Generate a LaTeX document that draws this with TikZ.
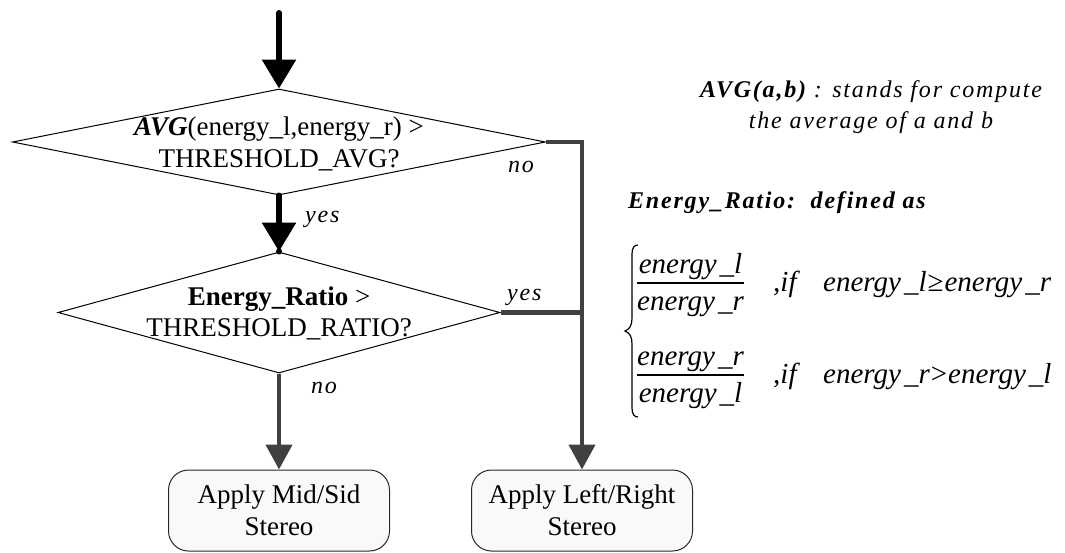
\documentclass[tikz,border=0pt]{standalone}
\usepackage{fontspec}
\setmainfont{Liberation Serif}[
  UprightFont={Liberation Serif},
  BoldFont={Liberation Serif Bold},
  ItalicFont={Liberation Serif Italic},
  BoldItalicFont={Liberation Serif Bold Italic}]
\newfontfamily\notefont{Liberation Serif}[
  LetterSpace=7.5,
  UprightFont={Liberation Serif},
  BoldFont={Liberation Serif Bold},
  ItalicFont={Liberation Serif Italic},
  BoldItalicFont={Liberation Serif Bold Italic}]
\usetikzlibrary{shapes.geometric,arrows.meta}

\definecolor{linkgray}{RGB}{64,64,64}
\definecolor{boxfill}{RGB}{249,249,249}
\definecolor{boxline}{RGB}{40,40,40}

\tikzset{
  decision/.style={draw=black, line width=1pt, shape=diamond, inner sep=0pt},
  action/.style={draw=boxline, fill=boxfill, line width=1pt, rounded corners=20pt,
    minimum width=221pt, minimum height=81pt, inner sep=0pt},
  flowtext/.style={font=\fontsize{27}{32}\selectfont, anchor=base, inner sep=0pt},
  note/.style={font=\notefont\fontsize{24}{30}\selectfont\itshape, inner sep=0pt},
  tag/.style={note, anchor=base west},
  mathtext/.style={font=\fontsize{29}{32}\selectfont\itshape, inner sep=0pt},
  mainflow/.style={line width=6pt, line cap=round, -{Triangle[length=29pt,width=33pt]}},
  sideflow/.style={draw=linkgray, line width=4.5pt, -{Triangle[length=25pt,width=26pt]}},
  sideline/.style={draw=linkgray, line width=4.5pt},
  fracbar/.style={line width=1.2pt},
}

\begin{document}
\begin{tikzpicture}[x=1pt, y=-1pt]
\useasboundingbox (0,0) rectangle (1065,552);

% decisions and actions
\node[decision, minimum width=533pt, minimum height=106pt] (d1) at (279,142) {};
\node[decision, minimum width=442pt, minimum height=121pt] (d2) at (279,312.5) {};
\node[action] (b1) at (279,510.5) {};
\node[action] (b2) at (582,510.5) {};
\coordinate (start) at (279,13);

% texts of the flow
\node[flowtext] (d1a) at (279,135) {\textbf{\textit{AVG}}(energy\_l,energy\_r) >};
\node[flowtext] (d1b) at (279,167) {THRESHOLD\_AVG?};
\node[flowtext] (d2a) at (279,305) {\textbf{Energy\_Ratio} >};
\node[flowtext] (d2b) at (279,336) {THRESHOLD\_RATIO?};
\node[flowtext] (b1a) at (279,503) {Apply Mid/Sid};
\node[flowtext] (b1b) at (279,535) {Stereo};
\node[flowtext] (b2a) at (582,503) {Apply Left/Right};
\node[flowtext] (b2b) at (582,535) {Stereo};

% connectors
\draw[mainflow] (start) -- (d1.north);
\draw[mainflow] (d1.south) -- (d2.north);
\fill (d2.north) circle (3pt);
\draw[sideflow] (d2.south) -- (b1.north);
\draw[sideflow] (d1.east) -| (b2.north);
\draw[sideline] (d2.east) -- (d2.east -| b2.north);

% branch labels
\node[tag] (no1) at (508,172) {no};
\node[tag] (yes1) at (305,222) {yes};
\node[tag] (yes2) at (507,300) {yes};
\node[tag] (no2) at (311,393) {no};

% notes on the right
\node[note, anchor=base] (avg1) at (871,97) {\bfseries AVG(a,b)\mdseries\ : stands for compute};
\node[note, anchor=base] (avg2) at (871,128) {the average of a and b};
\node[note, anchor=base west] (ratio) at (628,208) {\bfseries Energy\_Ratio:\ \ defined as};

% piecewise definition
\draw[line width=1.2pt] (638,245) .. controls (634,245) and (632,248) .. (632,254)
  -- (632,318) .. controls (632,325) and (630,329) .. (625,331)
  .. controls (630,333) and (632,337) .. (632,344)
  -- (632,408) .. controls (632,414) and (634,417) .. (638,417);
\draw[fracbar] (637,283) -- (744,283);
\draw[fracbar] (637,375) -- (744,375);
\node[mathtext, anchor=base] (n1) at (690.5,273) {energy\kern3pt\_l};
\node[mathtext, anchor=base] (m1) at (690.5,310) {energy\kern3pt\_r};
\node[mathtext, anchor=base] (n2) at (690.5,365) {energy\kern3pt\_r};
\node[mathtext, anchor=base] (m2) at (690.5,402) {energy\kern3pt\_l};
\node[mathtext, anchor=base west] (if1) at (773,291) {,if};
\node[mathtext, anchor=base west] (c1) at (823,291) {energy\kern3pt\_l\kern1pt\textup{≥}\kern1pt energy\kern3pt\_r};
\node[mathtext, anchor=base west] (if2) at (773,383) {,if};
\node[mathtext, anchor=base west] (c2) at (823,383) {energy\kern3pt\_r\kern1pt\textup{>}\kern1pt energy\kern3pt\_l};
\end{tikzpicture}
\end{document}
